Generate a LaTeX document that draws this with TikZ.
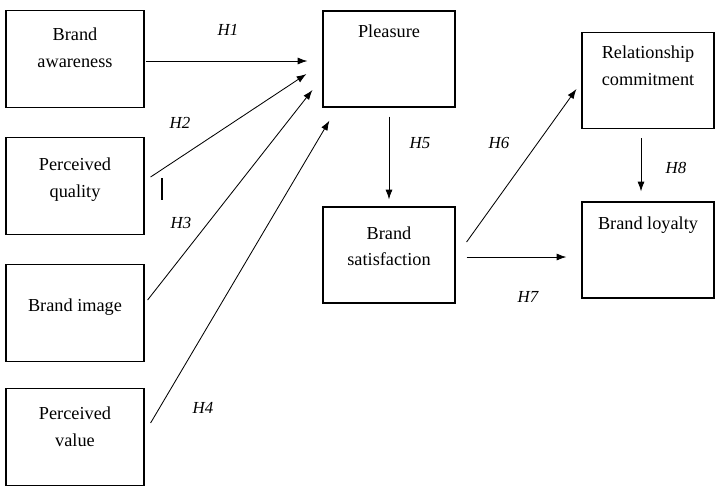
\documentclass[tikz,border=0pt]{standalone}
\usepackage{fontspec}
\setmainfont{Liberation Serif}
\usetikzlibrary{arrows.meta}
\tikzset{
  var/.style={draw, line width=0.8pt, minimum width=3.3cm, minimum height=2.4cm, inner sep=0pt},
  varleft/.style={var, minimum width=3.45cm, minimum height=2.425cm},
  vtext/.style={anchor=north, align=center, inner sep=0pt, font=\fontsize{13}{18.8}\selectfont},
  hlab/.style={inner sep=0pt, font=\fontsize{12}{14}\selectfont\itshape},
  hyp/.style={line width=0.6pt, -{Latex[length=7pt,width=5pt]}}
}
\begin{document}
\begin{tikzpicture}[x=0.025cm,y=-0.025cm]
    \useasboundingbox (0,0) rectangle (722,489);
    % antecedents
    \node[varleft] (ba) at (75,59) {};
    \node[varleft] (pq) at (75,186) {};
    \node[varleft] (bi) at (75,313) {};
    \node[varleft] (pv) at (75,437) {};
    \node[vtext] (ba-t) at ([shift={(0,18)}]ba.north) {Brand\\awareness};
    \node[vtext] (pq-t) at ([shift={(0,21)}]pq.north) {Perceived\\quality};
    \node[vtext] (bi-t) at ([shift={(0,35)}]bi.north) {Brand image};
    \node[vtext] (pv-t) at ([shift={(0,19)}]pv.north) {Perceived\\value};
    % middle and outcomes
    \node[var] (pl) at (389,59) {};
    \node[var] (bs) at (389,255) {};
    \node[var] (rc) at (648,80.5) {};
    \node[var] (bl) at (648,250) {};
    \node[vtext] (pl-t) at ([shift={(0,14)}]pl.north) {Pleasure};
    \node[vtext] (bs-t) at ([shift={(0,20)}]bs.north) {Brand\\satisfaction};
    \node[vtext] (rc-t) at ([shift={(0,14)}]rc.north) {Relationship\\commitment};
    \node[vtext] (bl-t) at ([shift={(0,15)}]bl.north) {Brand loyalty};
    % hypotheses
    \draw[hyp] ([shift={(1,2)}]ba.east) -- ([shift={(-15,2)}]pl.west);
    \draw[hyp] ([shift={(6,-9)}]pq.east) -- ([shift={(-16,15)}]pl.west);
    \draw[hyp] ([shift={(3,-13)}]bi.east) -- ([shift={(-10,31)}]pl.west);
    \draw[hyp] ([shift={(6,-14)}]pv.east) -- ([shift={(7,13)}]pl.south west);
    \draw[hyp] ([shift={(0,9)}]pl.south) -- ([shift={(0,-7)}]bs.north);
    \draw[hyp] ([shift={(11,-13)}]bs.east) -- ([shift={(-5,8.5)}]rc.west);
    \draw[hyp] ([shift={(11,2)}]bs.east) -- ([shift={(-15,7)}]bl.west);
    \draw[hyp] ([shift={(-7,9)}]rc.south) -- ([shift={(-7,-10)}]bl.north);
    \node[hlab] (h1) at (228,30) {H1};
    \node[hlab] (h2) at (180,123) {H2};
    \node[hlab] (h3) at (181,223) {H3};
    \node[hlab] (h4) at (203,408) {H4};
    \node[hlab] (h5) at (420,143) {H5};
    \node[hlab] (h6) at (499,143) {H6};
    \node[hlab] (h7) at (528,297) {H7};
    \node[hlab] (h8) at (676,168) {H8};
    \draw[line width=0.9pt] (162,178) -- (162,200); % tick
\end{tikzpicture}
\end{document}
